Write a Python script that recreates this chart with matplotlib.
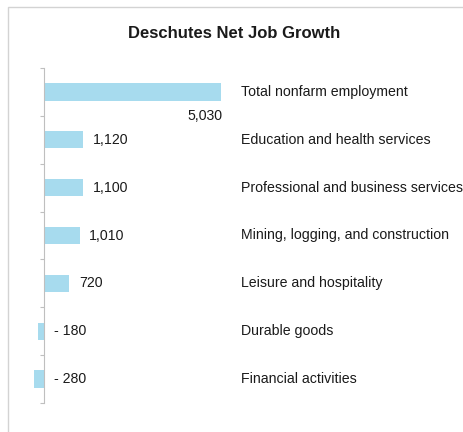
import matplotlib

matplotlib.use("Agg")
import matplotlib.pyplot as plt
import matplotlib.transforms as mtransforms
from matplotlib.patches import Rectangle
import numpy as np

# job change by sector (Deschutes county)
categories = [
    "Total nonfarm employment",
    "Education and health services",
    "Professional and business services",
    "Mining, logging, and construction",
    "Leisure and hospitality",
    "Durable goods",
    "Financial activities",
]
values = [5030, 1120, 1100, 1010, 720, -180, -280]
value_labels = ["5,030", "1,120", "1,100", "1,010", "720", "- 180", "- 280"]

BAR = "#A7DBEE"
GRID = "#BFBFBF"
TXT = "#1A1A1A"

plt.rcParams["font.family"] = ["Liberation Sans", "DejaVu Sans"]

W, H = 463, 432
fig = plt.figure(figsize=(W / 100, H / 100), dpi=100)

# outer chart-area border (top and left edges visible)
fig.patches.append(Rectangle((8 / W, -0.1), 1.2, (H - 7) / H + 0.1,
                             transform=fig.transFigure, fill=False,
                             edgecolor="#D3D3D3", lw=1))

ax = fig.add_axes([30 / W, 29 / H, 200 / W, 335 / H])
y = np.arange(len(categories))
ax.barh(y, values, height=0.36, color=BAR)

px = 5030 / 177.0  # data units per pixel
ax.set_xlim(-14 * px, 186 * px)
ax.set_ylim(len(categories) - 0.5, -0.5)

for s in ("top", "right", "bottom"):
    ax.spines[s].set_visible(False)
ax.spines["left"].set_position(("data", 0))
ax.spines["left"].set_color(GRID)
ax.set_xticks([])
ax.set_yticks(np.arange(len(categories) + 1) - 0.5)
ax.tick_params(axis="y", length=3, color=GRID, labelleft=False)

FS = 10.2
for i, (v, lab) in enumerate(zip(values, value_labels)):
    if i == 0:
        ax.annotate(lab, (v, i), xytext=(1, -17), textcoords="offset points",
                    ha="right", va="center", fontsize=FS, color=TXT)
    else:
        ax.annotate(lab, (max(v, 0), i), xytext=(7, 0),
                    textcoords="offset points", ha="left", va="center",
                    fontsize=FS, color=TXT)

trans = mtransforms.blended_transform_factory(fig.transFigure, ax.transData)
for i, cat in enumerate(categories):
    fig.text(241 / W, i, cat, transform=trans, ha="left", va="center",
             fontsize=FS, color=TXT)

fig.text(0.505, 1 - 33 / H, "Deschutes Net Job Growth", ha="center",
         va="center", fontsize=12, fontweight="bold", color=TXT)

fig.savefig("out.png", dpi=100)
